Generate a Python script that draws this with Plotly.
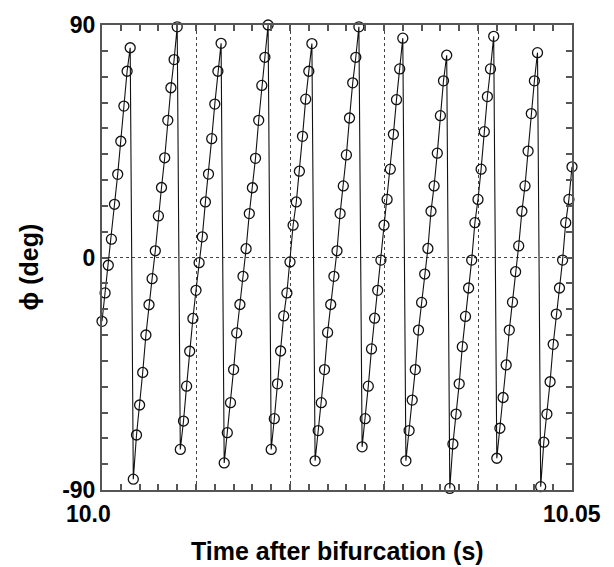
import plotly.graph_objects as go

# Sample times (s) – sampled every 1/3000 s
time_s = [
    10.00000, 10.00033, 10.00067, 10.00100, 10.00133, 10.00167, 10.00200, 10.00233, 10.00267, 10.00300, 10.00333, 10.00367, 10.00400, 10.00433, 10.00467,
    10.00500, 10.00533, 10.00567, 10.00600, 10.00633, 10.00667, 10.00700, 10.00733, 10.00767, 10.00800, 10.00833, 10.00867, 10.00900, 10.00933, 10.00967,
    10.01000, 10.01033, 10.01067, 10.01100, 10.01133, 10.01167, 10.01200, 10.01233, 10.01267, 10.01300, 10.01333, 10.01367, 10.01400, 10.01433, 10.01467,
    10.01500, 10.01533, 10.01567, 10.01600, 10.01633, 10.01667, 10.01700, 10.01733, 10.01767, 10.01800, 10.01833, 10.01867, 10.01900, 10.01933, 10.01967,
    10.02000, 10.02033, 10.02067, 10.02100, 10.02133, 10.02167, 10.02200, 10.02233, 10.02267, 10.02300, 10.02333, 10.02367, 10.02400, 10.02433, 10.02467,
    10.02500, 10.02533, 10.02567, 10.02600, 10.02633, 10.02667, 10.02700, 10.02733, 10.02767, 10.02800, 10.02833, 10.02867, 10.02900, 10.02933, 10.02967,
    10.03000, 10.03033, 10.03067, 10.03100, 10.03133, 10.03167, 10.03200, 10.03233, 10.03267, 10.03300, 10.03333, 10.03367, 10.03400, 10.03433, 10.03467,
    10.03500, 10.03533, 10.03567, 10.03600, 10.03633, 10.03667, 10.03700, 10.03733, 10.03767, 10.03800, 10.03833, 10.03867, 10.03900, 10.03933, 10.03967,
    10.04000, 10.04033, 10.04067, 10.04100, 10.04133, 10.04167, 10.04200, 10.04233, 10.04267, 10.04300, 10.04333, 10.04367, 10.04400, 10.04433, 10.04467,
    10.04500, 10.04533, 10.04567, 10.04600, 10.04633, 10.04667, 10.04700, 10.04733, 10.04767, 10.04800, 10.04833, 10.04867, 10.04900, 10.04933, 10.04967,
    10.05000,
]

# Phase phi (deg)
phi_deg = [
    -24.7, -13.7, -3.0, 7.1, 20.6, 32.2, 45.0, 58.6, 72.1, 81.2,
    -85.8, -68.7, -57.1, -44.5, -30.0, -18.3, -8.2, 2.6, 16.1, 27.1, 38.6, 53.1, 65.7, 76.6, 89.3,
    -74.3, -63.3, -49.8, -36.3, -23.6, -12.7, -2.0, 8.0, 21.5, 32.3, 46.0, 59.4, 72.1, 82.9,
    -79.5, -67.8, -56.2, -43.4, -29.2, -18.2, -7.3, 3.4, 17.0, 27.0, 38.4, 53.1, 66.6, 77.5, 90.0,
    -74.3, -62.4, -48.9, -36.2, -22.6, -13.7, -1.7, 12.5, 21.5, 33.4, 46.9, 61.3, 72.1, 82.8,
    -78.7, -67.0, -56.2, -43.4, -29.0, -18.2, -7.3, 2.6, 17.0, 27.7, 39.7, 54.0, 67.6, 77.5, 89.3,
    -73.3, -62.4, -49.8, -35.4, -23.5, -12.7, -1.0, 12.5, 22.5, 34.2, 47.7, 61.1, 73.0, 84.9,
    -78.7, -67.0, -55.2, -43.4, -28.1, -17.4, -6.4, 3.5, 17.9, 27.7, 40.4, 54.9, 68.4, 78.3,
    -89.4, -72.2, -60.6, -48.9, -34.5, -22.8, -11.8, -1.0, 13.5, 22.5, 34.2, 48.7, 62.3, 73.0, 85.6,
    -77.7, -66.1, -54.2, -41.6, -28.1, -17.3, -5.5, 4.5, 17.9, 27.7, 41.2, 55.7, 68.4, 79.3,
    -88.7, -71.5, -60.6, -48.1, -33.6, -21.9, -11.8, -1.0, 13.5, 22.5, 35.1,
]

x_major_ticks = [10.00, 10.01, 10.02, 10.03, 10.04, 10.05]
x_tick_labels = ["10.0", "10.05"]
x_tick_label_pos = [10.00, 10.05]
y_ticks = [-90, 0, 90]
y_tick_labels = ["-90", "0", "90"]

FONT = "Liberation Sans, Arial, sans-serif"
FRAME = "#555555"

fig = go.Figure()
fig.add_trace(go.Scatter(
    x=time_s, y=phi_deg, mode="lines+markers",
    line=dict(color="#111111", width=1.1),
    marker=dict(symbol="circle-open", size=10, color="#111111", line=dict(width=1.3)),
    cliponaxis=False, showlegend=False,
))

fig.update_layout(
    width=614, height=567,
    margin=dict(l=102, r=42, t=19, b=77),
    plot_bgcolor="white", paper_bgcolor="white",
    font=dict(family=FONT, color="black"),
    xaxis=dict(
        range=[10.0, 10.05], tickmode="array", tickvals=x_major_ticks,
        ticktext=[""] * len(x_major_ticks),
        ticks="inside", ticklen=6, tickcolor=FRAME, tickwidth=1.5,
        showline=True, linecolor=FRAME, linewidth=2, mirror="allticks",
        showgrid=True, gridcolor="#444444", griddash="dot", gridwidth=1.3,
        minor=dict(dtick=0.002, tick0=10.0, ticks="inside", ticklen=6, tickcolor=FRAME, tickwidth=1.5, showgrid=False),
        zeroline=False,
    ),
    yaxis=dict(
        range=[-90, 90], tickmode="array", tickvals=y_ticks, ticktext=y_tick_labels,
        tickfont=dict(size=23, weight="bold", family=FONT),
        ticks="inside", ticklen=6, tickcolor=FRAME, tickwidth=1.5,
        showline=True, linecolor=FRAME, linewidth=2, mirror="allticks",
        showgrid=True, gridcolor="#444444", griddash="dot", gridwidth=1.3,
        minor=dict(dtick=10, tick0=0, ticks="inside", ticklen=6, tickcolor=FRAME, tickwidth=1.5, showgrid=False),
        zeroline=False,
    ),
)

for xv, txt, anchor, shift in zip(x_tick_label_pos, x_tick_labels, ["right", "center"], [11, 0]):
    fig.add_annotation(x=xv, xref="x", y=0, yref="paper", text=txt, showarrow=False,
                       xanchor=anchor, yanchor="top", xshift=shift, yshift=-9,
                       font=dict(size=23, weight="bold", family=FONT))

fig.add_annotation(x=0.5, xref="paper", y=0, yref="paper", text="Time after bifurcation (s)",
                   showarrow=False, xanchor="center", yanchor="middle", yshift=-61,
                   font=dict(size=25, weight="bold", family=FONT))
fig.add_annotation(x=0, xref="paper", y=0.5, yref="paper", text="ϕ (deg)", textangle=-90,
                   showarrow=False, xanchor="center", yanchor="middle", xshift=-74, yshift=-10,
                   font=dict(size=25, weight="bold", family=FONT))

fig.write_html("out.html")
